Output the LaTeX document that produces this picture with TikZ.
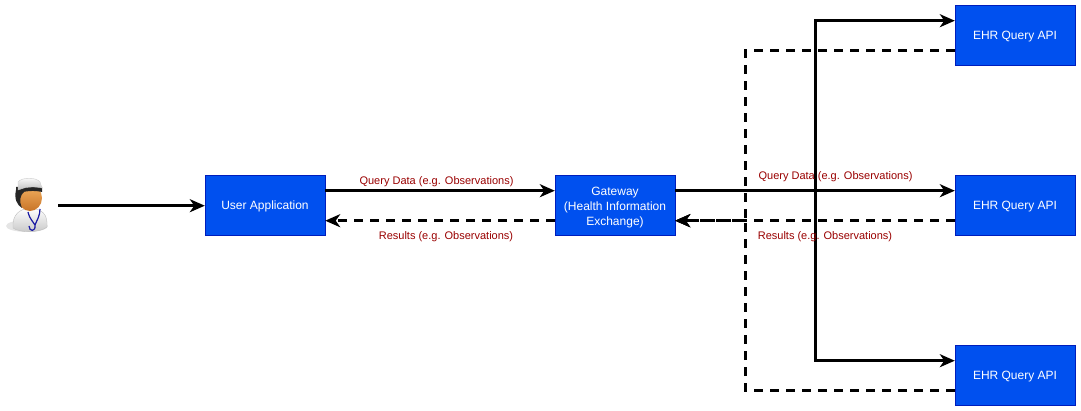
\documentclass[tikz,border=0pt]{standalone}
\usepackage{fontspec}
\setmainfont{Liberation Sans}
\usetikzlibrary{arrows.meta}
\definecolor{boxfill}{HTML}{0050EF}
\definecolor{boxline}{HTML}{001DBC}
\definecolor{labelred}{HTML}{990000}
\definecolor{skintop}{HTML}{F2B060}
\definecolor{skinlow}{HTML}{C87428}
\tikzset{
  apibox/.style={draw=boxline,fill=boxfill,text=white,minimum width=120pt,minimum height=60pt,inner sep=0pt,align=center,font=\fontsize{12}{15}\selectfont},
  flow/.style={line width=3pt,-{Stealth[length=15pt,width=13pt,inset=4.5pt]}},
  back/.style={flow,dash pattern=on 9pt off 7pt},
  msg/.style={text=labelred,inner sep=0pt,font=\fontsize{11}{13}\selectfont}
}
\begin{document}
\begin{tikzpicture}[x=1pt,y=-1pt]
\useasboundingbox (0,0) rectangle (1081,411);
% doctor
\fill[black!10] (27,226) ellipse (21 and 6);
\shadedraw[top color=white,bottom color=black!22,draw=black!25] (13,228) .. controls (12,214) and (20,209) .. (30,208) .. controls (42,209) and (48,214) .. (47,227) .. controls (40,233) and (20,233) .. (13,228) -- cycle;
\shade[top color=skintop,bottom color=skinlow] (30,198) ellipse (12 and 13);
\fill[black!85] (16,190) .. controls (14,199) and (17,205) .. (22,208) .. controls (19,201) and (20,195) .. (24,192) -- cycle;
\fill[black!85] (16,187) -- (42,187) -- (42,192) .. controls (34,190) and (24,191) .. (16,194) -- cycle;
\shadedraw[top color=white,bottom color=black!25,draw=black!20] (18,182) .. controls (22,177) and (36,177) .. (40,182) -- (42,188) .. controls (33,186) and (25,187) .. (18,190) -- cycle;
\draw[blue!60!black!90,line width=1.2pt] (28,212) .. controls (30,220) and (33,221) .. (35,225) .. controls (36,232) and (29,232) .. (29,226);
\draw[blue!60!black!90,line width=1.2pt] (40,209) .. controls (40,216) and (37,220) .. (35,225);
\coordinate (doctor) at (58,205.7);
% boxes
\node[apibox,text height=10.8pt] (app) at (265,205) {User Application};
\node[apibox,text height=42.6pt] (gateway) at (615,205) {Gateway\\(Health Information\\Exchange)};
\foreach \n/\y in {1/35,2/205,3/375}
  \node[apibox,text height=10.8pt] (ehr\n) at (1015,\y) {EHR Query API};
\coordinate (split) at (815.5,190.7);
\coordinate (merge) at (745.5,220.7);
% requests
\draw[flow] (doctor) -- (app.west |- doctor);
\draw[flow] (app.east |- split) -- (gateway.west |- split);
\draw[flow] (gateway.east |- split) -- (ehr2.west |- split);
\draw[flow] (split) |- (ehr1.west |- 0,20.7);
\draw[flow] (split) |- (ehr3.west |- 0,360.7);
% results
\draw[back] (gateway.west |- merge) -- (app.east |- merge);
\draw[back] (ehr2.west |- merge) -- (gateway.east |- merge);
\draw[back] (ehr1.west |- 0,50.7) -| (merge) -- (gateway.east |- merge);
\draw[back] (ehr3.west |- 0,390.7) -| (merge) -- (gateway.east |- merge);
% labels
\node[msg] (q1) at (436.5,181.7) {Query Data (e.g. Observations)};
\node[msg] (r1) at (446,236.7) {Results (e.g. Observations)};
\node[msg] (q2) at (835.5,176.2) {Query Data (e.g. Observations)};
\node[msg] (r2) at (825,236.7) {Results (e.g. Observations)};
\end{tikzpicture}
\end{document}
